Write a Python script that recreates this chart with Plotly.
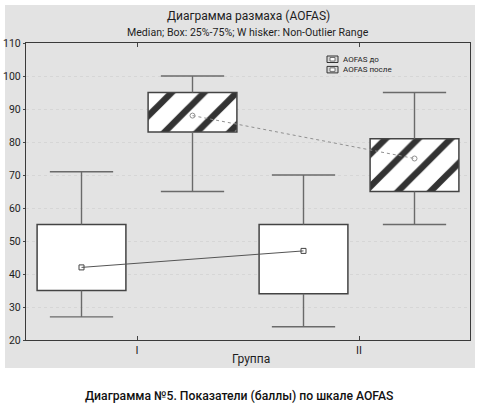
import plotly.graph_objects as go

groups = ["I", "II"]
series_names = ["AOFAS до", "AOFAS после"]
# per series: values for groups I, II
before_lower = [27, 24]
before_q1 = [35, 34]
before_median = [42, 47]
before_q3 = [55, 55]
before_upper = [71, 70]

after_lower = [65, 55]
after_q1 = [83, 65]
after_median = [88, 75]
after_q3 = [95, 81]
after_upper = [100, 95]

y_ticks = [20, 30, 40, 50, 60, 70, 80, 90, 100, 110]

title_lines = ["Диаграмма размаха (AOFAS)", "Median; Box: 25%-75%; W hisker: Non-Outlier Range"]
x_title = "Группа"
caption = "Диаграмма №5. Показатели (баллы) по шкале AOFAS"

FONT = "Roboto, Lato, sans-serif"
OFFSET = 0.25
BOX_W = 0.4
CAP_W = 0.285
BOX_LINE = "#444444"
WHISK = "#6a6a6a"
TXT = "#1e1e1e"

fig = go.Figure()

series = [
    (series_names[0], before_lower, before_q1, before_median, before_q3, before_upper, -OFFSET, False),
    (series_names[1], after_lower, after_q1, after_median, after_q3, after_upper, OFFSET, True),
]

for name, lo, q1, med, q3, up, off, hatched in series:
    xs = [i + off for i in range(len(groups))]
    marker = dict(color="white", line=dict(color=BOX_LINE, width=1.5))
    if hatched:
        marker["pattern"] = dict(shape="/", fgcolor="#333333", bgcolor="white",
                                 fgopacity=1, size=23, solidity=0.28, fillmode="replace")
    fig.add_trace(go.Bar(
        x=xs, base=q1, y=[b - a for a, b in zip(q1, q3)], width=BOX_W,
        marker=marker, name=name, showlegend=False, hoverinfo="skip",
    ))
    # whiskers
    wx, wy = [], []
    for x, a, b, c, d in zip(xs, lo, q1, q3, up):
        wx += [x, x, None, x - CAP_W / 2, x + CAP_W / 2, None,
               x, x, None, x - CAP_W / 2, x + CAP_W / 2, None]
        wy += [c, d, None, d, d, None, b, a, None, a, a, None]
    fig.add_trace(go.Scatter(x=wx, y=wy, mode="lines",
                             line=dict(color=WHISK, width=1.4),
                             showlegend=False, hoverinfo="skip"))

# median connecting lines
fig.add_trace(go.Scatter(
    x=[i - OFFSET for i in range(len(groups))], y=before_median,
    mode="lines+markers", line=dict(color="#555555", width=1),
    marker=dict(symbol="square-open", size=5, color="#444444", line=dict(width=1)),
    showlegend=False, hoverinfo="skip"))
fig.add_trace(go.Scatter(
    x=[i + OFFSET for i in range(len(groups))], y=after_median,
    mode="lines+markers", line=dict(color="#909090", width=1, dash="dot"),
    marker=dict(symbol="circle-open", size=5, color="#909090", line=dict(width=1)),
    showlegend=False, hoverinfo="skip"))

# page geometry (plot area 26..470 x 43..340 px)
def px_x(p):
    return (p - 26) / 444.0

def px_y(p):
    return (340 - p) / 297.0

shapes = [dict(type="rect", xref="paper", yref="paper",
               x0=px_x(5), x1=px_x(475), y0=px_y(368), y1=px_y(5),
               fillcolor="#e3e3e3", line=dict(width=0), layer="below")]
annotations = [
    dict(text=title_lines[0], xref="paper", yref="paper", x=px_x(248), y=px_y(16),
         xanchor="center", yanchor="middle", showarrow=False,
         font=dict(size=12, family=FONT, color=TXT)),
    dict(text=title_lines[1], xref="paper", yref="paper", x=px_x(248), y=px_y(32),
         xanchor="center", yanchor="middle", showarrow=False,
         font=dict(size=10.6, family=FONT, color=TXT)),
    dict(text=x_title, xref="paper", yref="paper", x=px_x(251), y=px_y(359),
         xanchor="center", yanchor="middle", showarrow=False,
         font=dict(size=12, family=FONT, color=TXT)),
    dict(text=caption, xref="paper", yref="paper", x=px_x(239), y=px_y(396),
         xanchor="center", yanchor="middle", showarrow=False,
         font=dict(size=12.2, family=FONT, color="#111111", weight=500)),
]

# compact legend (icons + labels)
LEG_STEP = 10.4
for k, nm in enumerate(series_names):
    top = 56 + LEG_STEP * k
    shapes.append(dict(type="rect", xref="paper", yref="paper",
                       x0=px_x(327), x1=px_x(338), y0=px_y(top + 6.5), y1=px_y(top),
                       fillcolor="#d8d8d8", line=dict(color="#333333", width=1)))
    shapes.append(dict(type="rect", xref="paper", yref="paper",
                       x0=px_x(330), x1=px_x(335), y0=px_y(top + 5), y1=px_y(top + 1.5),
                       fillcolor="white", line=dict(color="#555555", width=0.8)))
annotations.append(dict(text="<br>".join(series_names), xref="paper", yref="paper",
                        x=px_x(341), y=px_y(56 + 3.3 + LEG_STEP / 2),
                        xanchor="left", yanchor="middle", align="left", showarrow=False,
                        font=dict(size=8, family=FONT, color=TXT)))

fig.update_layout(
    width=481, height=418,
    margin=dict(l=26, r=11, t=43, b=78, autoexpand=False),
    paper_bgcolor="white", plot_bgcolor="white",
    font=dict(family=FONT, size=11, color=TXT),
    barmode="overlay",
    showlegend=False,
    shapes=shapes,
    annotations=annotations,
)

fig.update_xaxes(
    range=[-0.5, len(groups) - 0.5],
    tickvals=list(range(len(groups))), ticktext=groups,
    ticks="inside", ticklen=4, tickcolor="#444444",
    showline=True, linecolor="#3a3a3a", linewidth=1.3, mirror="ticks",
    showgrid=False, zeroline=False, automargin=False,
    tickfont=dict(size=11, color=TXT, family=FONT),
)
fig.update_yaxes(
    range=[20, 110], tickvals=y_ticks,
    ticks="outside", ticklen=2, tickcolor="#444444",
    showline=True, linecolor="#3a3a3a", linewidth=1.3, mirror=True,
    showgrid=True, gridcolor="#d6d6d6", griddash="dot", gridwidth=1,
    zeroline=False, automargin=False, tickfont=dict(size=10.5, color=TXT, family=FONT),
)

fig.write_html("out.html", config={"displayModeBar": False},
               post_script="document.body.style.margin='0';")
